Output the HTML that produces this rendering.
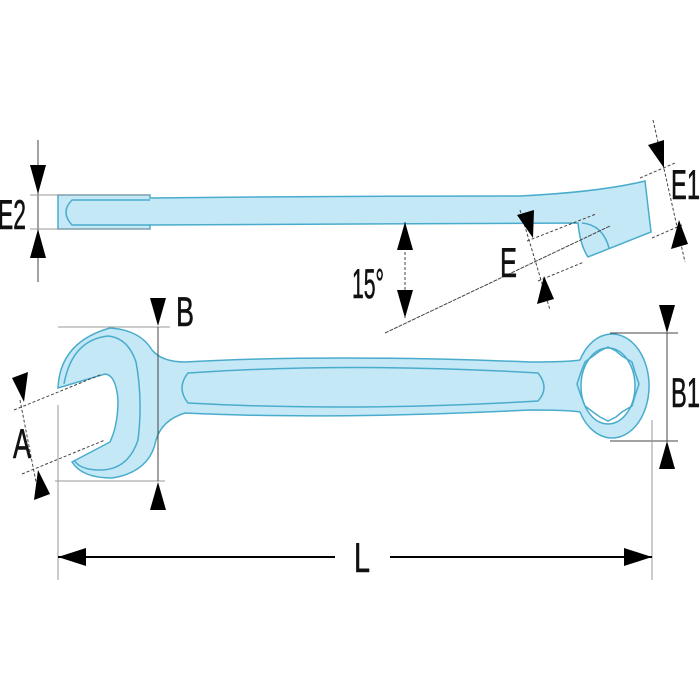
<!DOCTYPE html>
<html><head><style>body{margin:0;background:#fff}svg{display:block}text{font-family:"Liberation Sans",sans-serif;font-size:42px;fill:#111;stroke:#111;stroke-width:0.6}</style></head>
<body>
<svg width="700" height="700" viewBox="0 0 700 700" xmlns="http://www.w3.org/2000/svg">
<g fill="#c4e8f6" stroke="#4aaccc" stroke-width="1.5">
<!-- side view -->
<path d="M58,195 L150,195 L150,198 Q340,196 520,196 Q600,192 645,181 L651,232 L588,257 Q580,245 578,223 L150,225 L150,229 L58,229 Z"/>
<path d="M150,225 L72,225 Q60,212 72,200 L150,200" fill="none"/>
<path d="M582,223 Q603,225 609,248" fill="none"/>
<!-- front view -->
<path d="M58,388 Q60,342 110,328 Q140,330 152,350 Q162,362 185,362 Q330,354 530,362 Q568,362 580,360 A37,52 0 1 1 580,412 Q568,410 530,410 Q330,420 185,413 Q162,420 156,440 Q150,472 112,478 Q82,478 72,462 L110,442 Q118,425 118,400 Q116,375 105,374 Z"/>
<path d="M64,384 Q72,340 108,336 Q128,338 136,362 Q143,400 138,440 Q128,470 100,470 Q80,470 74,460" fill="none"/>
<path d="M188,373 Q350,362 538,373 Q550,388 538,401 Q350,412 188,403 Q176,388 188,373 Z"/>
<ellipse cx="608" cy="386" rx="27" ry="38" fill="#fff"/>
<path d="M608,347 l8,4 l6,5 l10,6 l3,10 l4,12 l-4,12 l-3,10 l-10,6 l-6,5 l-8,4 l-8,-4 l-7,-5 l-8,-6 l-4,-10 l-4,-12 l4,-12 l4,-10 l8,-6 l7,-5z" fill="none"/>
</g>
<g stroke="#444" stroke-width="1" fill="none">
<line x1="38" y1="140" x2="38" y2="282"/>
<line x1="30" y1="195" x2="150" y2="195" stroke="#999"/><line x1="30" y1="229" x2="150" y2="229" stroke="#999"/>
<line x1="385" y1="333" x2="610" y2="226" stroke-dasharray="4,1"/>
<line x1="405" y1="222" x2="405" y2="318" stroke-dasharray="3,2"/>
<line x1="520" y1="210" x2="550" y2="310" stroke-dasharray="3,2"/>
<line x1="527" y1="241" x2="596" y2="214" stroke-dasharray="3,2"/>
<line x1="538" y1="281" x2="584" y2="262" stroke-dasharray="3,2"/>
<line x1="653" y1="120" x2="685" y2="262" stroke-dasharray="3,2"/>
<line x1="640" y1="178" x2="675" y2="163" stroke-dasharray="3,2"/>
<line x1="652" y1="238" x2="682" y2="225" stroke-dasharray="3,2"/>
<line x1="58" y1="327" x2="170" y2="327" stroke="#999"/><line x1="55" y1="481" x2="165" y2="481" stroke="#999"/>
<line x1="158" y1="327" x2="158" y2="481"/>
<line x1="610" y1="333" x2="678" y2="333"/><line x1="610" y1="441" x2="678" y2="441"/>
<line x1="667" y1="333" x2="667" y2="441"/>
<line x1="14" y1="410" x2="100" y2="375" stroke-dasharray="3,2"/>
<line x1="22" y1="474" x2="105" y2="440" stroke-dasharray="3,2"/>
<line x1="20" y1="400" x2="36" y2="482" stroke-dasharray="3,2"/>
<line x1="58" y1="405" x2="58" y2="580" stroke="#999"/><line x1="652" y1="420" x2="652" y2="580" stroke="#999"/>
<line x1="58" y1="557" x2="335" y2="557" stroke="#000" stroke-width="2"/>
<line x1="390" y1="557" x2="652" y2="557" stroke="#000" stroke-width="2"/>
</g>
<g fill="#000">
<path d="M30,165 L46,165 L38,194z"/><path d="M30,258 L46,258 L38,229z"/>
<path d="M397,250 L413,250 L405,222z"/><path d="M397,290 L413,290 L405,318z"/>
<path d="M517,215 L534,210 L533,238z"/><path d="M537,304 L554,299 L544,276z"/>
<path d="M648,145 L664,140 L664,168z"/><path d="M671,249 L688,244 L679,220z"/>
<path d="M150,298 L166,298 L158,326z"/><path d="M150,510 L166,510 L158,482z"/>
<path d="M659,305 L675,305 L667,333z"/><path d="M659,469 L675,469 L667,441z"/>
<path d="M12,378 L28,372 L24,402z"/><path d="M34,500 L50,494 L38,470z"/>
<path d="M58,557 L86,548 L86,566z"/><path d="M652,557 L624,548 L624,566z"/>
</g>
<g>
<text x="-2" y="229" textLength="28" lengthAdjust="spacingAndGlyphs">E2</text>
<text x="671" y="199" textLength="29" lengthAdjust="spacingAndGlyphs">E1</text>
<text x="500" y="277" textLength="17" lengthAdjust="spacingAndGlyphs">E</text>
<text x="352" y="298" textLength="32" lengthAdjust="spacingAndGlyphs">15°</text>
<text x="176" y="326" textLength="18" lengthAdjust="spacingAndGlyphs">B</text>
<text x="671" y="407" textLength="29" lengthAdjust="spacingAndGlyphs">B1</text>
<text x="13" y="458" textLength="18" lengthAdjust="spacingAndGlyphs">A</text>
<text x="354" y="572" textLength="16" lengthAdjust="spacingAndGlyphs">L</text>
</g>
</svg>
</body></html>
